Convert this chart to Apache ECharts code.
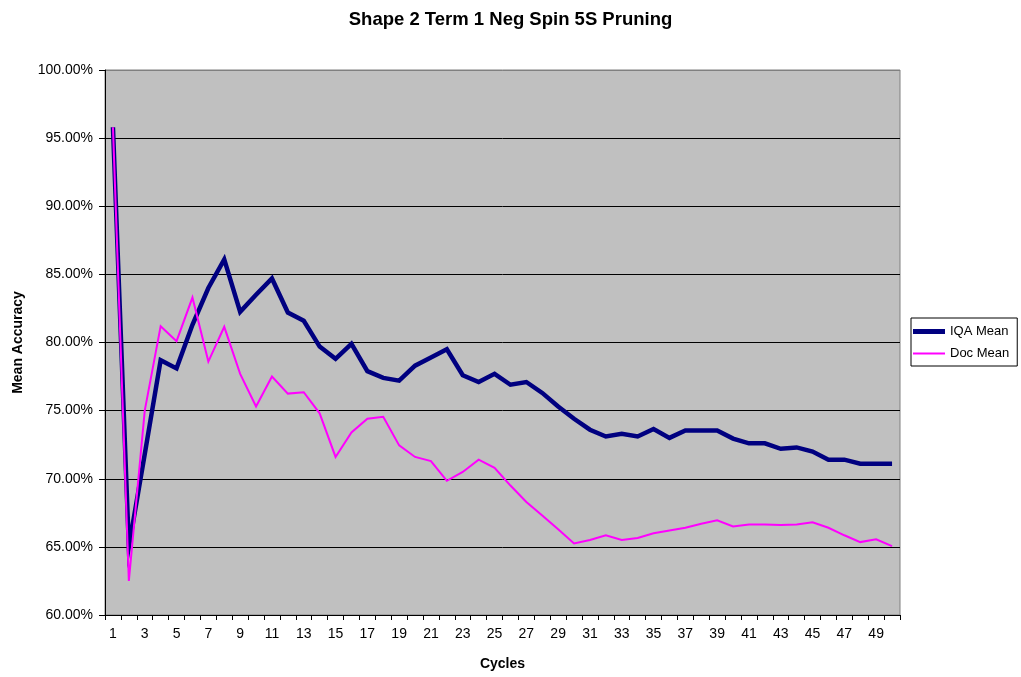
<!DOCTYPE html>
<html>
<head>
<meta charset="utf-8">
<title>Shape 2 Term 1 Neg Spin 5S Pruning</title>
<script src="https://cdn.jsdelivr.net/npm/echarts@6/dist/echarts.min.js"></script>
<style>
  html, body { margin: 0; padding: 0; background: #fff; }
  #chart { width: 1021px; height: 677px; }
</style>
</head>
<body>
<div id="chart"></div>
<script>
// Pruning cycles on the x axis
const cycles = [
  '1','2','3','4','5','6','7','8','9','10',
  '11','12','13','14','15','16','17','18','19','20',
  '21','22','23','24','25','26','27','28','29','30',
  '31','32','33','34','35','36','37','38','39','40',
  '41','42','43','44','45','46','47','48','49','50'
];

// Mean accuracy per cycle, in percent
const iqaMean = [
  95.8, 65.0, 71.8, 78.7, 78.1, 81.3, 84.0, 86.1, 82.25, 83.5,
  84.7, 82.2, 81.6, 79.7, 78.8, 79.9, 77.9, 77.4, 77.2, 78.3,
  78.9, 79.5, 77.6, 77.1, 77.7, 76.9, 77.1, 76.3, 75.3, 74.4,
  73.6, 73.1, 73.3, 73.1, 73.65, 73.0, 73.55, 73.55, 73.55, 72.95,
  72.6, 72.6, 72.2, 72.3, 72.0, 71.4, 71.4, 71.1, 71.1, 71.1
];
const docMean = [
  95.8, 62.5, 75.0, 81.2, 80.1, 83.3, 78.6, 81.15, 77.7, 75.3,
  77.5, 76.25, 76.35, 74.8, 71.6, 73.4, 74.4, 74.55, 72.45, 71.6,
  71.3, 69.85, 70.5, 71.4, 70.8, 69.5, 68.3, 67.3, 66.3, 65.25,
  65.5, 65.85, 65.5, 65.65, 66.0, 66.2, 66.4, 66.7, 66.95, 66.5,
  66.65, 66.65, 66.6, 66.65, 66.8, 66.4, 65.85, 65.35, 65.55, 65.05
];

const seriesNames = ['IQA Mean', 'Doc Mean'];
const FONT = "'Liberation Sans', Arial, sans-serif";

const chart = echarts.init(document.getElementById('chart'), null, { renderer: 'canvas' });

chart.setOption({
  animation: false,
  backgroundColor: '#ffffff',
  title: {
    text: 'Shape 2 Term 1 Neg Spin 5S Pruning',
    left: 'center',
    top: 5,
    textStyle: { fontFamily: FONT, fontSize: 18.5, fontWeight: 'bold', color: '#000' }
  },
  grid: {
    left: 105, right: 121, top: 70, bottom: 62,
    outerBoundsMode: 'none',
    containLabel: false,
    show: true,
    backgroundColor: '#c0c0c0',
    borderColor: '#808080',
    borderWidth: 1
  },
  legend: {
    orient: 'vertical',
    left: 911,
    top: 318,
    backgroundColor: '#ffffff',
    borderColor: '#000000',
    borderWidth: 1,
    borderRadius: 0,
    padding: [7, 8, 6, 2],
    itemGap: 9,
    itemWidth: 32,
    itemHeight: 14,
    symbolKeepAspect: true,
    textStyle: { fontFamily: FONT, fontSize: 13, color: '#000' },
    data: [
      { name: seriesNames[0], icon: 'path://M0,0 H32 V5 H0 Z' },
      { name: seriesNames[1], icon: 'path://M0,0 H32 V2 H0 Z' }
    ]
  },
  xAxis: {
    type: 'category',
    data: cycles,
    boundaryGap: true,
    name: 'Cycles',
    nameLocation: 'middle',
    nameGap: 42,
    nameTextStyle: { fontFamily: FONT, fontSize: 14, fontWeight: 'bold', color: '#000' },
    axisLine: { lineStyle: { color: '#000', width: 1 } },
    axisTick: { show: true, interval: 0, length: 5, lineStyle: { color: '#000' } },
    axisLabel: { interval: 1, margin: 12, fontFamily: FONT, fontSize: 14, color: '#000' },
    splitLine: { show: false }
  },
  yAxis: {
    type: 'value',
    min: 60,
    max: 100,
    interval: 5,
    name: 'Mean Accuracy',
    nameLocation: 'middle',
    nameGap: 80,
    nameRotate: 90,
    nameTextStyle: { fontFamily: FONT, fontSize: 14, fontWeight: 'bold', color: '#000' },
    axisLine: { show: true, lineStyle: { color: '#000', width: 1 } },
    axisTick: { show: true, length: 6, lineStyle: { color: '#000' } },
    axisLabel: {
      margin: 12,
      fontFamily: FONT, fontSize: 14, color: '#000',
      formatter: v => v.toFixed(2) + '%'
    },
    splitLine: {
      show: true,
      lineStyle: {
        color: ['#000', '#000', '#000', '#000', '#000', '#000', '#000', '#000', '#808080'],
        width: 1
      }
    }
  },
  series: [
    {
      name: seriesNames[0],
      type: 'line',
      data: iqaMean,
      symbol: 'none',
      smooth: false,
      color: '#000080',
      lineStyle: { color: '#000080', width: 4.5, join: 'miter' }
    },
    {
      name: seriesNames[1],
      type: 'line',
      data: docMean,
      symbol: 'none',
      smooth: false,
      color: '#ff00ff',
      lineStyle: { color: '#ff00ff', width: 2, join: 'miter' }
    }
  ]
});
</script>
</body>
</html>
